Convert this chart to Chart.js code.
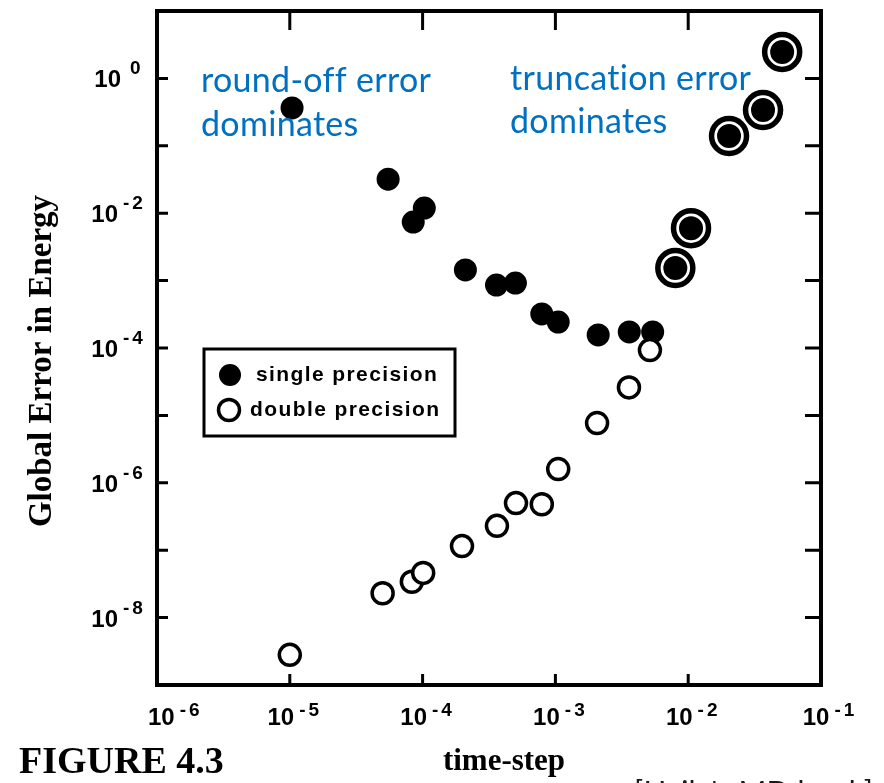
<!DOCTYPE html>
<html>
<head>
<meta charset="utf-8">
<style>
  html, body { margin: 0; padding: 0; background: #ffffff; }
  #wrap { width: 884px; height: 783px; position: relative; overflow: hidden; }
  canvas { display: block; }
</style>
<script src="https://cdn.jsdelivr.net/npm/chart.js@4/dist/chart.umd.min.js"></script>
</head>
<body>
<div id="wrap"><canvas id="c" width="884" height="783"></canvas></div>
<script>
// ---------------- data ----------------
const timeStepSingle = [1.04e-5, 5.5e-5, 8.5e-5, 1.03e-4, 2.1e-4, 3.6e-4, 5.0e-4, 7.9e-4, 1.05e-3, 2.1e-3, 3.6e-3, 5.4e-3, 8.0e-3, 1.05e-2, 2.03e-2, 3.66e-2, 5.1e-2];
const errorSingle    = [0.364, 0.032, 7.4e-3, 1.19e-2, 1.44e-3, 8.6e-4, 9.2e-4, 3.2e-4, 2.43e-4, 1.56e-4, 1.73e-4, 1.73e-4, 1.54e-3, 6.0e-3, 0.14, 0.34, 2.47];
const timeStepDouble = [1.0e-5, 5.0e-5, 8.3e-5, 1.01e-4, 1.98e-4, 3.63e-4, 5.05e-4, 7.9e-4, 1.05e-3, 2.06e-3, 3.58e-3, 5.15e-3, 8.0e-3, 1.05e-2, 2.03e-2, 3.66e-2, 5.1e-2];
const errorDouble    = [2.8e-9, 2.3e-8, 3.4e-8, 4.6e-8, 1.15e-7, 2.3e-7, 5.0e-7, 4.8e-7, 1.6e-6, 7.7e-6, 2.6e-5, 9.3e-5, 1.54e-3, 6.0e-3, 0.14, 0.34, 2.47];

const seriesLabels = ['single precision', 'double precision'];
const xTickExponents = [-6, -5, -4, -3, -2, -1];
const xLabelExponents = [-6, -5, -4, -3, -2, -1];
const yTickExponents = [1, 0, -1, -2, -3, -4, -5, -6, -7, -8, -9];
const yLabelExponents = [0, -2, -4, -6, -8];
const xTitle = 'time-step';
const yTitle = 'Global Error in Energy';
const figureLabel = 'FIGURE 4.3';
const sourceNote = "[Haile's MD book]";
const noteLeft = ['round-off error', 'dominates'];
const noteRight = ['truncation error', 'dominates'];

// ---------------- helpers ----------------
const toXY = (xs, ys) => xs.map((v, i) => ({ x: v, y: ys[i] }));
function sharedSingle(i) {
  return timeStepDouble.some((t, j) => t === timeStepSingle[i] && errorDouble[j] === errorSingle[i]);
}
function sharedDouble(i) {
  return timeStepSingle.some((t, j) => t === timeStepDouble[i] && errorSingle[j] === errorDouble[i]);
}

function drawPower(ctx, exp, baseLeft, baseBaseline, expBaseline) {
  ctx.font = 'bold 24px "Liberation Sans", Arial, sans-serif';
  ctx.textAlign = 'left';
  ctx.textBaseline = 'alphabetic';
  ctx.fillText('10', baseLeft, baseBaseline);
  const bw = ctx.measureText('10').width;
  ctx.font = 'bold 19px "Liberation Sans", Arial, sans-serif';
  ctx.letterSpacing = '3px';
  const s = exp < 0 ? '-' + Math.abs(exp) : String(exp);
  ctx.fillText(s, baseLeft + bw + (exp < 0 ? 5 : 9), expBaseline);
  ctx.letterSpacing = '0px';
}
function powerWidth(ctx, exp) {
  ctx.font = 'bold 24px "Liberation Sans", Arial, sans-serif';
  const bw = ctx.measureText('10').width;
  ctx.font = 'bold 19px "Liberation Sans", Arial, sans-serif';
  ctx.letterSpacing = '3px';
  const s = exp < 0 ? '-' + Math.abs(exp) : String(exp);
  const ew = ctx.measureText(s).width;
  ctx.letterSpacing = '0px';
  return { bw, total: bw + (exp < 0 ? 5 : 9) + ew };
}

const decor = {
  id: 'decor',
  beforeDraw(chart) {
    const ctx = chart.ctx;
    ctx.save();
    ctx.fillStyle = '#ffffff';
    ctx.fillRect(0, 0, chart.width, chart.height);
    ctx.restore();
  },
  afterDraw(chart) {
    const { ctx, chartArea: a, scales } = chart;
    const xs = scales.x, ys = scales.y;
    ctx.save();
    ctx.strokeStyle = '#000';
    ctx.fillStyle = '#000';

    // frame
    ctx.lineWidth = 4;
    ctx.strokeRect(a.left, a.top, a.right - a.left, a.bottom - a.top);

    // inward ticks
    ctx.lineWidth = 3;
    ctx.beginPath();
    xTickExponents.forEach(e => {
      const px = xs.getPixelForValue(Math.pow(10, e));
      if (px > a.left + 3 && px < a.right - 3) {
        ctx.moveTo(px, a.bottom); ctx.lineTo(px, a.bottom - 11);
        ctx.moveTo(px, a.top); ctx.lineTo(px, a.top + 19);
      }
    });
    yTickExponents.forEach(e => {
      const py = ys.getPixelForValue(Math.pow(10, e));
      if (py > a.top + 3 && py < a.bottom - 3) {
        ctx.moveTo(a.left, py); ctx.lineTo(a.left + 11, py);
        ctx.moveTo(a.right, py); ctx.lineTo(a.right - 16, py);
      }
    });
    ctx.stroke();

    // y tick labels
    yLabelExponents.forEach(e => {
      const py = ys.getPixelForValue(Math.pow(10, e));
      const w = powerWidth(ctx, e);
      drawPower(ctx, e, 120 - w.bw + (e === 0 ? 3 : 0) - 2, py + 9, py - 4);
    });

    // x tick labels
    xLabelExponents.forEach((e, i) => {
      const px = xs.getPixelForValue(Math.pow(10, e));
      const w = powerWidth(ctx, e);
      let left = px + 5 - w.total / 2;
      if (i === 0) left = Math.max(left, a.left - 9);
      if (i === xLabelExponents.length - 1) left += 4;
      drawPower(ctx, e, left, 725, 716);
    });

    // axis titles
    ctx.font = 'bold 31px "Liberation Serif", "DejaVu Serif", serif';
    ctx.textAlign = 'center';
    ctx.textBaseline = 'alphabetic';
    ctx.fillText(xTitle, 504, 770);

    ctx.save();
    ctx.translate(51, 361);
    ctx.rotate(-Math.PI / 2);
    ctx.font = 'bold 33px "Liberation Serif", "DejaVu Serif", serif';
    ctx.textAlign = 'center';
    ctx.fillText(yTitle, 0, 0);
    ctx.restore();

    // figure label
    ctx.font = 'bold 38px "Liberation Serif", "DejaVu Serif", serif';
    ctx.textAlign = 'left';
    ctx.fillText(figureLabel, 19, 773);

    // source note (cut off at the bottom)
    ctx.font = '30px Lato, "Open Sans", sans-serif';
    ctx.letterSpacing = '0.2px';
    ctx.fillStyle = '#1a1a1a';
    ctx.fillText(sourceNote, 634, 803);

    // blue annotations
    ctx.fillStyle = '#0070C0';
    ctx.font = '34px Lato, "Open Sans", sans-serif';
    ctx.letterSpacing = '0.3px';
    ctx.fillText(noteLeft[0], 201, 92);
    ctx.fillText(noteLeft[1], 201, 136);
    ctx.fillText(noteRight[0], 510, 90);
    ctx.fillText(noteRight[1], 510, 133);
    ctx.letterSpacing = '0px';

    // legend box
    ctx.fillStyle = '#000';
    ctx.lineWidth = 3;
    ctx.strokeRect(204, 349, 251, 87);
    ctx.beginPath();
    ctx.arc(230, 375, 11, 0, Math.PI * 2);
    ctx.fill();
    ctx.beginPath();
    ctx.arc(229, 410, 10.5, 0, Math.PI * 2);
    ctx.lineWidth = 3.5;
    ctx.stroke();
    ctx.font = 'bold 21px "Liberation Sans", Arial, sans-serif';
    ctx.letterSpacing = '1.4px';
    ctx.textAlign = 'left';
    ctx.textBaseline = 'middle';
    ctx.fillText(chart.data.datasets[0].label, 256, 375);
    ctx.fillText(chart.data.datasets[1].label, 250, 410);
    ctx.letterSpacing = '0px';

    ctx.restore();
  }
};

new Chart(document.getElementById('c'), {
  type: 'scatter',
  data: {
    datasets: [
      {
        label: seriesLabels[0],
        data: toXY(timeStepSingle, errorSingle),
        order: 2,
        pointStyle: 'circle',
        pointRadius: ctx => sharedSingle(ctx.dataIndex) ? 13.5 : 11.5,
        pointHoverRadius: ctx => sharedSingle(ctx.dataIndex) ? 13.5 : 11.5,
        backgroundColor: '#000',
        borderColor: ctx => sharedSingle(ctx.dataIndex) ? '#fff' : '#000',
        borderWidth: ctx => sharedSingle(ctx.dataIndex) ? 3 : 0,
        clip: false
      },
      {
        label: seriesLabels[1],
        data: toXY(timeStepDouble, errorDouble),
        order: 1,
        pointStyle: 'circle',
        pointRadius: ctx => sharedDouble(ctx.dataIndex) ? 17.5 : 10.5,
        pointHoverRadius: ctx => sharedDouble(ctx.dataIndex) ? 17.5 : 10.5,
        backgroundColor: ctx => sharedDouble(ctx.dataIndex) ? 'rgba(0,0,0,0)' : '#fff',
        borderColor: '#000',
        borderWidth: ctx => sharedDouble(ctx.dataIndex) ? 5.5 : 3.5,
        clip: false
      }
    ]
  },
  options: {
    responsive: false,
    animation: false,
    devicePixelRatio: 1,
    events: [],
    layout: { autoPadding: false, padding: { left: 157, top: 11, right: 63, bottom: 98 } },
    plugins: { legend: { display: false }, tooltip: { enabled: false }, title: { display: false } },
    scales: {
      x: { type: 'logarithmic', min: 1e-6, max: 1e-1, display: false },
      y: { type: 'logarithmic', min: 1e-9, max: 1e1, display: false }
    }
  },
  plugins: [decor]
});
</script>
</body>
</html>
